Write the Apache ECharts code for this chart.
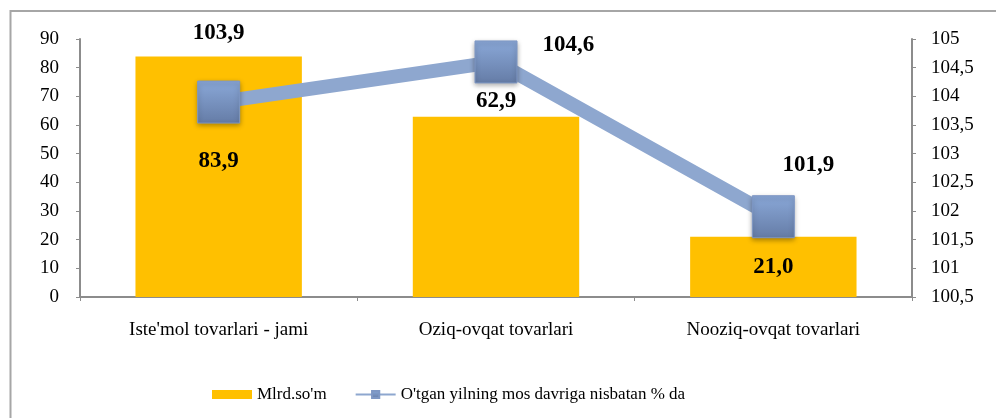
<!DOCTYPE html>
<html>
<head>
<meta charset="utf-8">
<script src="https://cdn.jsdelivr.net/npm/echarts@6/dist/echarts.min.js"></script>
<style>
  html, body { margin: 0; padding: 0; background: #fff; }
  #chart { width: 996px; height: 418px; }
</style>
</head>
<body>
<div id="chart"></div>
<script>
// data
var categories = ["Iste'mol tovarlari - jami", 'Oziq-ovqat tovarlari', 'Nooziq-ovqat tovarlari'];
var mlrdSom = [83.9, 62.9, 21.0];
var percentPrev = [103.9, 104.6, 101.9];
var leftTicks = { min: 0, max: 90, interval: 10 };
var rightTicks = { min: 100.5, max: 105, interval: 0.5 };

var font = 'Liberation Serif, Times New Roman, serif';
var axisGray = '#8c8c8c';

function comma (v) {
  return String(v).replace('.', ',');
}

// label placement per point (style only)
var barLabelPos = [
  { position: 'insideTop', offset: [0, 88] },
  { position: 'top', offset: [0, 1] },
  { position: 'inside', offset: [0, 0] }
];
var lineLabelPos = [
  { position: 'top', offset: [0, -31] },
  { position: 'right', offset: [20, -17] },
  { position: 'top', offset: [35, -14] }
];

var myChart = echarts.init(document.getElementById('chart'));
myChart.setOption({
  animation: false,
  textStyle: { fontFamily: font },
  graphic: [
    { type: 'line', shape: { x1: 10.5, y1: 10, x2: 10.5, y2: 418 }, style: { stroke: '#a6a6a6', lineWidth: 2 } },
    { type: 'line', shape: { x1: 10, y1: 11, x2: 996, y2: 11 }, style: { stroke: '#a6a6a6', lineWidth: 2 } }
  ],
  grid: { left: 80, right: 84, top: 39, bottom: 121 },
  legend: {
    bottom: 10,
    left: 207,
    itemGap: 28,
    itemWidth: 40,
    itemHeight: 9,
    textStyle: { fontFamily: font, fontSize: 17, color: '#000' },
    data: [
      { name: "Mlrd.so'm", icon: 'rect' },
      { name: "O'tgan yilning mos davriga nisbatan % da" }
    ]
  },
  xAxis: {
    type: 'category',
    data: categories,
    axisLine: { lineStyle: { color: axisGray, width: 2 } },
    axisTick: { show: true, length: 4, lineStyle: { color: axisGray } },
    axisLabel: { fontSize: 19, color: '#000', fontFamily: font, margin: 24 }
  },
  yAxis: [
    {
      type: 'value',
      min: leftTicks.min,
      max: leftTicks.max,
      interval: leftTicks.interval,
      splitLine: { show: false },
      axisLine: { show: true, lineStyle: { color: axisGray, width: 2 } },
      axisTick: { show: true, length: 4, lineStyle: { color: axisGray } },
      axisLabel: { fontSize: 19, color: '#000', fontFamily: font, margin: 21 }
    },
    {
      type: 'value',
      min: rightTicks.min,
      max: rightTicks.max,
      interval: rightTicks.interval,
      splitLine: { show: false },
      axisLine: { show: true, lineStyle: { color: axisGray, width: 2 } },
      axisTick: { show: true, length: 4, lineStyle: { color: axisGray } },
      axisLabel: {
        fontSize: 19, color: '#000', fontFamily: font, margin: 19,
        formatter: function (v) { return comma(v); }
      }
    }
  ],
  series: [
    {
      name: "Mlrd.so'm",
      type: 'bar',
      barWidth: '60%',
      itemStyle: { color: '#FFC000' },
      data: mlrdSom.map(function (v, i) {
        return {
          value: v,
          label: {
            show: true,
            position: barLabelPos[i].position,
            offset: barLabelPos[i].offset,
            formatter: function (p) { return p.value.toFixed(1).replace('.', ','); },
            fontSize: 23, fontWeight: 'bold', color: '#000', fontFamily: font
          }
        };
      })
    },
    {
      name: "O'tgan yilning mos davriga nisbatan % da",
      type: 'line',
      yAxisIndex: 1,
      symbol: 'rect',
      symbolSize: 42,
      z: 5,
      lineStyle: { color: '#8EA7CF', width: 14 },
      itemStyle: {
        color: new echarts.graphic.LinearGradient(0, 0, 0, 1, [
          { offset: 0, color: '#8AA8D8' },
          { offset: 1, color: '#657CA6' }
        ]),
        borderColor: '#7E97C4',
        borderWidth: 1,
        shadowColor: 'rgba(0,0,0,0.35)',
        shadowBlur: 5,
        shadowOffsetY: 2
      },
      data: percentPrev.map(function (v, i) {
        return {
          value: v,
          label: {
            show: true,
            position: lineLabelPos[i].position,
            offset: lineLabelPos[i].offset,
            formatter: function (p) { return comma(p.value); },
            fontSize: 23, fontWeight: 'bold', color: '#000', fontFamily: font
          }
        };
      })
    }
  ]
});
</script>
</body>
</html>
